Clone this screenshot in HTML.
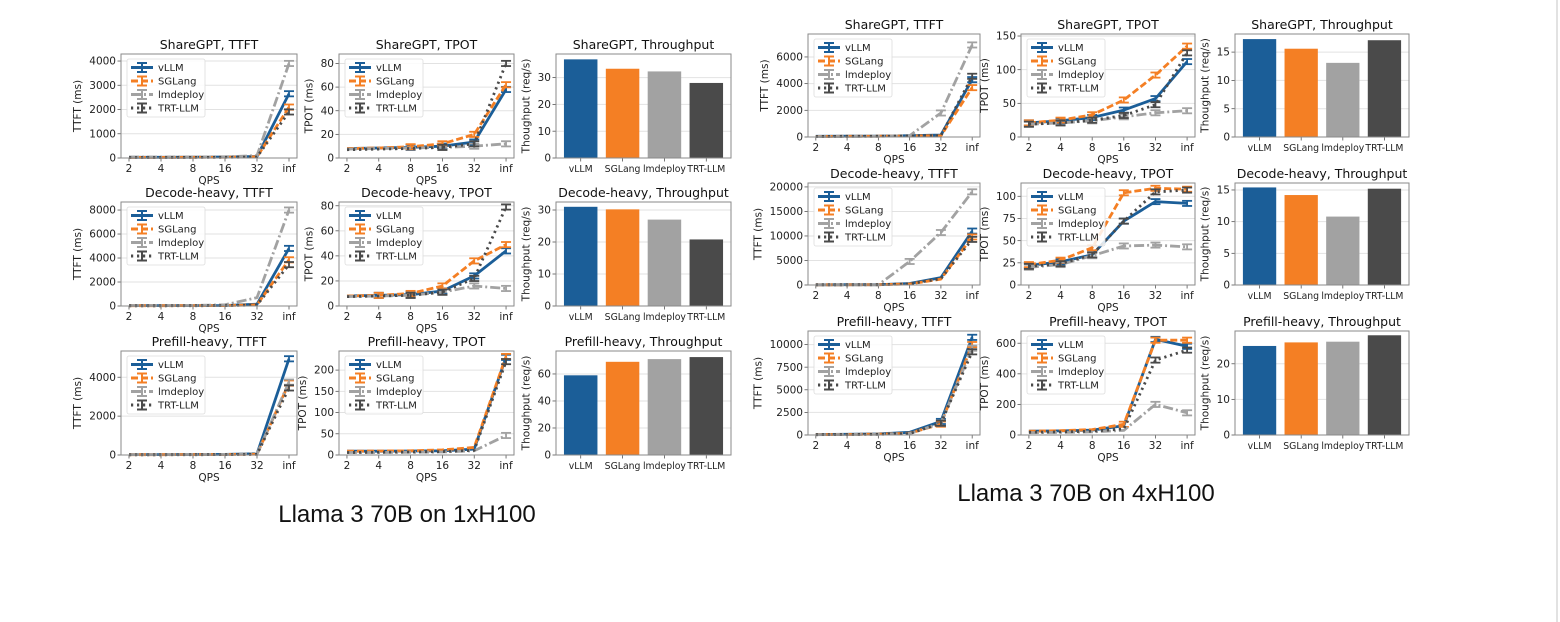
<!DOCTYPE html>
<html><head><meta charset="utf-8">
<style>
html,body{margin:0;padding:0;background:#fff;}
svg{display:block;font-family:"DejaVu Sans","Liberation Sans",sans-serif;}
.cap{font-family:"Liberation Sans",sans-serif;}
</style></head>
<body>
<svg id="fig" width="1560" height="622" viewBox="0 0 1560 622" xmlns="http://www.w3.org/2000/svg">
<rect x="0" y="0" width="1560" height="622" fill="#fff"/>
<line x1="1557" y1="0" x2="1557" y2="622" stroke="#d8d8d8" stroke-width="1.5"/>
<text class="cap" x="407" y="522" font-size="24" text-anchor="middle" fill="#111">Llama 3 70B on 1xH100</text>
<text class="cap" x="1086" y="501" font-size="24" text-anchor="middle" fill="#111">Llama 3 70B on 4xH100</text>
</svg>
<script>
const cats=['2','4','8','16','32','inf'];
const engines=['vLLM','SGLang','lmdeploy','TRT-LLM'];
// Left: 1xH100
const lShareTtftVllm=[30,30,35,40,60,2650];
const lShareTtftSgl=[25,25,30,35,50,2100];
const lShareTtftLmd=[40,40,45,50,100,3900];
const lShareTtftTrt=[20,20,25,30,40,1900];
const lShareTpotVllm=[8,8.5,9,10,13.5,58];
const lShareTpotSgl=[8,8.5,9.5,12,20,62];
const lShareTpotLmd=[7.5,8,8.5,9,10,12];
const lShareTpotTrt=[7,7.5,8,9,12,80];
const lShareThr=[36.8,33.3,32.3,28];
const lDecTtftVllm=[30,30,35,40,150,4800];
const lDecTtftSgl=[25,25,30,35,100,3850];
const lDecTtftLmd=[40,40,45,100,700,8000];
const lDecTtftTrt=[20,20,25,30,80,3450];
const lDecTpotVllm=[8,8.5,9,12,24,44];
const lDecTpotSgl=[8,8.5,10,16,36,49];
const lDecTpotLmd=[7.5,8,8.5,11,16,14];
const lDecTpotTrt=[7.5,8,8.5,11,22,79];
const lDecThr=[31,30.2,27,20.8];
const lPreTtftVllm=[20,20,25,30,60,4950];
const lPreTtftSgl=[15,15,20,25,40,3700];
const lPreTtftLmd=[20,20,25,30,50,3750];
const lPreTtftTrt=[10,10,15,20,30,3450];
const lPreTpotVllm=[9,9,9.5,10,14,230];
const lPreTpotSgl=[9,9.5,10,12,18,232];
const lPreTpotLmd=[6,6,6.5,7,10,46];
const lPreTpotTrt=[6,6.5,7,8,11,220];
const lPreThr=[59,69,71,72.5];
// Right: 4xH100
const rShareTtftVllm=[50,60,70,100,150,4300];
const rShareTtftSgl=[40,50,60,80,100,3700];
const rShareTtftLmd=[30,40,50,100,1800,6900];
const rShareTtftTrt=[40,50,60,80,100,4550];
const rShareTpotVllm=[21,24,29,40,57,112];
const rShareTpotSgl=[21,25,33,55,92,135];
const rShareTpotLmd=[19,21,24,30,36,39];
const rShareTpotTrt=[19,21,25,32,48,125];
const rShareThr=[17.3,15.6,13.1,17.1];
const rDecTtftVllm=[50,60,70,300,1500,11000];
const rDecTtftSgl=[40,50,60,200,1200,9800];
const rDecTtftLmd=[30,40,50,4800,10700,19000];
const rDecTtftTrt=[40,50,60,250,1300,9300];
const rDecTpotVllm=[22,26,34,72,94,92];
const rDecTpotSgl=[23,28,42,104,109,108];
const rDecTpotLmd=[20,23,33,44,45,43];
const rDecTpotTrt=[21,24,34,72,105,107];
const rDecThr=[15.4,14.2,10.8,15.2];
const rPreTtftVllm=[50,80,120,300,1500,10800];
const rPreTtftSgl=[40,60,100,200,1200,10000];
const rPreTtftLmd=[30,50,80,150,1300,9600];
const rPreTtftTrt=[30,50,80,150,1300,9200];
const rPreTpotVllm=[25,27,32,60,625,580];
const rPreTpotSgl=[25,28,35,70,620,620];
const rPreTpotLmd=[15,17,20,30,200,145];
const rPreTpotTrt=[18,20,25,40,490,555];
const rPreThr=[25,26,26.2,28];

const colors=['#1b5e98','#f47f24','#a2a2a2','#4a4a4a'];
const dashes=['','7,3','10,3,2,3','2.2,3.8'];
const NS='http://www.w3.org/2000/svg';
const svg=document.getElementById('fig');
function el(tag,attrs,parent){const e=document.createElementNS(NS,tag);for(const k in attrs)e.setAttribute(k,attrs[k]);(parent||svg).appendChild(e);return e;}
function txt(s,attrs,parent){const e=el('text',attrs,parent);e.textContent=s;return e;}

function frame(g,b,title,ylabel,ymax,ticks){
  const y=v=>b.y1-(v/ymax)*(b.y1-b.y0);
  let maxw=0;
  ticks.forEach(t=>{
    const yy=y(t);
    const gl=el('line',{x1:b.x0,x2:b.x1,y1:yy,y2:yy,stroke:'#e2e2e2','stroke-width':1},g);
    
    
    el('line',{x1:b.x0-3.5,x2:b.x0,y1:yy,y2:yy,stroke:'#555','stroke-width':0.8},g);
    const s=String(t);
    maxw=Math.max(maxw,s.length);
    const tl=txt(s,{x:b.x0-5,y:yy+3.6,'font-size':10.5,'text-anchor':'end',fill:'#222'},g);
    
    
  });
  const tt=txt(title,{x:(b.x0+b.x1)/2,y:b.y0-5,'font-size':12.5,'text-anchor':'middle',fill:'#111'},g);
  
  
  const lx=b.x0-8-maxw*6.7-5;
  const yl=txt(ylabel,{x:lx,y:(b.y0+b.y1)/2,'font-size':10.5,'text-anchor':'middle',fill:'#222',transform:`rotate(-90 ${lx} ${(b.y0+b.y1)/2})`},g);
  
  
  return y;
}
function spines(g,b){
  const r=el('rect',{x:b.x0,y:b.y0,width:b.x1-b.x0,height:b.y1-b.y0,fill:'none',stroke:'#8a8a8a','stroke-width':1},g);
  
  
}
function linePanel(name,b,title,ylabel,ymax,ticks,series){
  const g=el('g',{});
  
  
  const y=frame(g,b,title,ylabel,ymax,ticks);
  const W=b.x1-b.x0;
  const x=i=>b.x0+W*(i+0.25)/5.5;
  cats.forEach((c,i)=>{
    el('line',{x1:x(i),x2:x(i),y1:b.y1,y2:b.y1+3.5,stroke:'#555','stroke-width':0.8},g);
    const tl=txt(c,{x:x(i),y:b.y1+14,'font-size':10.5,'text-anchor':'middle',fill:'#222'},g);
    
    
  });
  const xl=txt('QPS',{x:(b.x0+b.x1)/2,y:b.y1+26,'font-size':10.5,'text-anchor':'middle',fill:'#222'},g);
  
  
  series.forEach((vals,k)=>{
    const pts=vals.map((v,i)=>x(i).toFixed(1)+','+y(v).toFixed(1)).join(' ');
    const pl=el('polyline',{points:pts,fill:'none',stroke:colors[k],'stroke-width':2.8,'stroke-dasharray':dashes[k],'stroke-linejoin':'round'},g);
    
    
    vals.forEach((v,i)=>{
      if(v<ymax*0.1) return;
      const e=ymax*0.025, yy0=y(v+e), yy1=y(Math.max(0,v-e));
      const eb=el('g',{stroke:colors[k],'stroke-width':1.8},g);
      
      
      el('line',{x1:x(i),x2:x(i),y1:yy0,y2:yy1},eb);
      el('line',{x1:x(i)-5,x2:x(i)+5,y1:yy0,y2:yy0},eb);
      el('line',{x1:x(i)-5,x2:x(i)+5,y1:yy1,y2:yy1},eb);
    });
  });
  const lg=el('g',{},g);
  
  
  const lx=b.x0+6, ly=b.y0+5;
  el('rect',{x:lx,y:ly,width:78,height:58,rx:2,fill:'#fff','fill-opacity':0.85,stroke:'#ddd','stroke-width':0.8},lg);
  engines.forEach((n,k)=>{
    const yy=ly+8.5+k*13.5;
    const en=el('g',{},lg);
    
    
    el('line',{x1:lx+4,x2:lx+26,y1:yy,y2:yy,stroke:colors[k],'stroke-width':3,'stroke-dasharray':dashes[k]},en);
    el('line',{x1:lx+15,x2:lx+15,y1:yy-4.5,y2:yy+4.5,stroke:colors[k],'stroke-width':2},en);
    el('line',{x1:lx+10,x2:lx+20,y1:yy-4.5,y2:yy-4.5,stroke:colors[k],'stroke-width':2},en);
    el('line',{x1:lx+10,x2:lx+20,y1:yy+4.5,y2:yy+4.5,stroke:colors[k],'stroke-width':2},en);
    txt(n,{x:lx+31,y:yy+3.6,'font-size':10,fill:'#222'},en);
  });
  spines(g,b);
}
function barPanel(name,b,title,ymax,ticks,vals){
  const g=el('g',{});
  
  
  const y=frame(g,b,title,'Thoughput (req/s)',ymax,ticks);
  const W=b.x1-b.x0, u=W/4.18;
  const x=i=>b.x0+(i+0.59)*u;
  vals.forEach((v,i)=>{
    const r=el('rect',{x:x(i)-0.4*u,y:y(v),width:0.8*u,height:b.y1-y(v),fill:colors[i]},g);
    
    
    el('line',{x1:x(i),x2:x(i),y1:b.y1,y2:b.y1+3.5,stroke:'#555','stroke-width':0.8},g);
    const tl=txt(engines[i],{x:x(i),y:b.y1+14,'font-size':9.3,'text-anchor':'middle',fill:'#222'},g);
    
    
  });
  spines(g,b);
}
const LC=[[121,297],[339,514],[556,731]], LR=[[54,158],[202,306],[351,455]];
const RC=[[808,980],[1021,1195],[1235,1409]], RR=[[34,137],[183,285],[331,435]];
const B=(c,r)=>({x0:c[0],x1:c[1],y0:r[0],y1:r[1]});
linePanel('l-sharegpt-ttft',B(LC[0],LR[0]),'ShareGPT, TTFT','TTFT (ms)',4290,[0,1000,2000,3000,4000],[lShareTtftVllm,lShareTtftSgl,lShareTtftLmd,lShareTtftTrt]);
linePanel('l-sharegpt-tpot',B(LC[1],LR[0]),'ShareGPT, TPOT','TPOT (ms)',88,[0,20,40,60,80],[lShareTpotVllm,lShareTpotSgl,lShareTpotLmd,lShareTpotTrt]);
barPanel('l-sharegpt-throughput',B(LC[2],LR[0]),'ShareGPT, Throughput',38.8,[0,10,20,30],lShareThr);
linePanel('l-decode-ttft',B(LC[0],LR[1]),'Decode-heavy, TTFT','TTFT (ms)',8670,[0,2000,4000,6000,8000],[lDecTtftVllm,lDecTtftSgl,lDecTtftLmd,lDecTtftTrt]);
linePanel('l-decode-tpot',B(LC[1],LR[1]),'Decode-heavy, TPOT','TPOT (ms)',83,[0,20,40,60,80],[lDecTpotVllm,lDecTpotSgl,lDecTpotLmd,lDecTpotTrt]);
barPanel('l-decode-throughput',B(LC[2],LR[1]),'Decode-heavy, Throughput',32.5,[0,10,20,30],lDecThr);
linePanel('l-prefill-ttft',B(LC[0],LR[2]),'Prefill-heavy, TTFT','TTFT (ms)',5350,[0,2000,4000],[lPreTtftVllm,lPreTtftSgl,lPreTtftLmd,lPreTtftTrt]);
linePanel('l-prefill-tpot',B(LC[1],LR[2]),'Prefill-heavy, TPOT','TPOT (ms)',245,[0,50,100,150,200],[lPreTpotVllm,lPreTpotSgl,lPreTpotLmd,lPreTpotTrt]);
barPanel('l-prefill-throughput',B(LC[2],LR[2]),'Prefill-heavy, Throughput',77,[0,20,40,60],lPreThr);
linePanel('r-sharegpt-ttft',B(RC[0],RR[0]),'ShareGPT, TTFT','TTFT (ms)',7720,[0,2000,4000,6000],[rShareTtftVllm,rShareTtftSgl,rShareTtftLmd,rShareTtftTrt]);
linePanel('r-sharegpt-tpot',B(RC[1],RR[0]),'ShareGPT, TPOT','TPOT (ms)',153,[0,50,100,150],[rShareTpotVllm,rShareTpotSgl,rShareTpotLmd,rShareTpotTrt]);
barPanel('r-sharegpt-throughput',B(RC[2],RR[0]),'ShareGPT, Throughput',18.2,[0,5,10,15],rShareThr);
linePanel('r-decode-ttft',B(RC[0],RR[1]),'Decode-heavy, TTFT','TTFT (ms)',20800,[0,5000,10000,15000,20000],[rDecTtftVllm,rDecTtftSgl,rDecTtftLmd,rDecTtftTrt]);
linePanel('r-decode-tpot',B(RC[1],RR[1]),'Decode-heavy, TPOT','TPOT (ms)',115,[0,25,50,75,100],[rDecTpotVllm,rDecTpotSgl,rDecTpotLmd,rDecTpotTrt]);
barPanel('r-decode-throughput',B(RC[2],RR[1]),'Decode-heavy, Throughput',16.1,[0,5,10,15],rDecThr);
linePanel('r-prefill-ttft',B(RC[0],RR[2]),'Prefill-heavy, TTFT','TTFT (ms)',11500,[0,2500,5000,7500,10000],[rPreTtftVllm,rPreTtftSgl,rPreTtftLmd,rPreTtftTrt]);
linePanel('r-prefill-tpot',B(RC[1],RR[2]),'Prefill-heavy, TPOT','TPOT (ms)',680,[0,200,400,600],[rPreTpotVllm,rPreTpotSgl,rPreTpotLmd,rPreTpotTrt]);
barPanel('r-prefill-throughput',B(RC[2],RR[2]),'Prefill-heavy, Throughput',29.2,[0,10,20],rPreThr);
</script>
</body></html>
